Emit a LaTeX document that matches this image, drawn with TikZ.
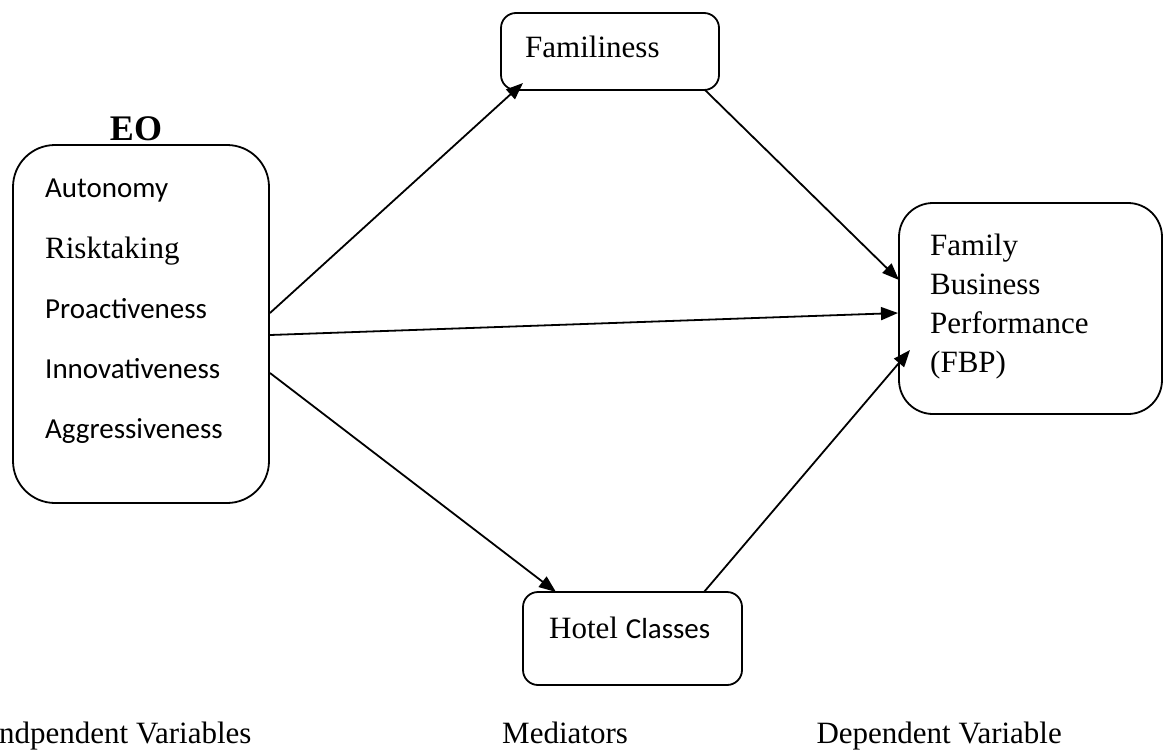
\documentclass[tikz,border=0pt]{standalone}
\usepackage{fontspec}
\setmainfont{Liberation Serif}
\newfontfamily\calibfont{Carlito}
\usetikzlibrary{arrows.meta}
\begin{document}
\begin{tikzpicture}[x=1pt,y=-1pt,
  box/.style={draw,line width=1.8pt,inner sep=0pt,outer sep=0pt},
  arr/.style={line width=1.8pt,-{Triangle[length=17pt,width=13pt]}},
  tt/.style={anchor=base west,inner sep=0pt,font=\fontsize{31}{31}\selectfont},
  ct/.style={anchor=base west,inner sep=0pt,font=\calibfont\fontsize{29}{29}\selectfont}]
\useasboundingbox (0,0) rectangle (1165,750);
% boxes
\node[box,rounded corners=42pt,minimum width=256pt,minimum height=358pt] (eo) at (141,324) {};
\node[box,rounded corners=15pt,minimum width=218pt,minimum height=77pt] (fam) at (610,51.5) {};
\node[box,rounded corners=15pt,minimum width=219pt,minimum height=93pt] (hot) at (632.5,638.5) {};
\node[box,rounded corners=34pt,minimum width=263pt,minimum height=211pt] (fbp) at (1030.5,308.5) {};
% labels
\node[anchor=base,inner sep=0pt,font=\bfseries\fontsize{36}{36}\selectfont] (eolab) at (136,140) {EO};
\node[ct] (t1) at (45,197) {Autonomy};
\node[tt] (t2) at (45,258) {Risktaking};
\node[ct] (t3) at (45,318) {Proactiveness};
\node[ct] (t4) at (45,378) {Innovativeness};
\node[ct] (t5) at (45,438) {Aggressiveness};
\node[tt] (famt) at (525,57) {Familiness};
\node[tt] (hott) at (549,638) {Hotel {\calibfont\fontsize{29}{29}\selectfont Classes}};
\node[tt] (f1) at (930,255) {Family};
\node[tt] (f2) at (930,294) {Business};
\node[tt] (f3) at (930,333) {Performance};
\node[tt] (f4) at (930,372) {(FBP)};
\node[tt] (b1) at (-1,743) {ndpendent Variables};
\node[tt] (b2) at (502,743) {Mediators};
\node[tt,anchor=base east] (b3) at (1062,743) {Dependent Variable};
% connector end points
\coordinate (eoA) at (270,313);
\coordinate (eoB) at (270,335);
\coordinate (eoC) at (270,373);
\coordinate (famIn) at (523,83);
\coordinate (famOut) at (705,90);
\coordinate (hotIn) at (556,592);
\coordinate (hotOut) at (704,592);
\coordinate (fbpA) at (899,280);
\coordinate (fbpB) at (898,313);
\coordinate (fbpC) at (910,350);
% connectors
\draw[arr] (eoA) -- (famIn);
\draw[arr] (eoB) -- (fbpB);
\draw[arr] (eoC) -- (hotIn);
\draw[arr] (famOut) -- (fbpA);
\draw[arr] (hotOut) -- (fbpC);
\end{tikzpicture}
\end{document}
